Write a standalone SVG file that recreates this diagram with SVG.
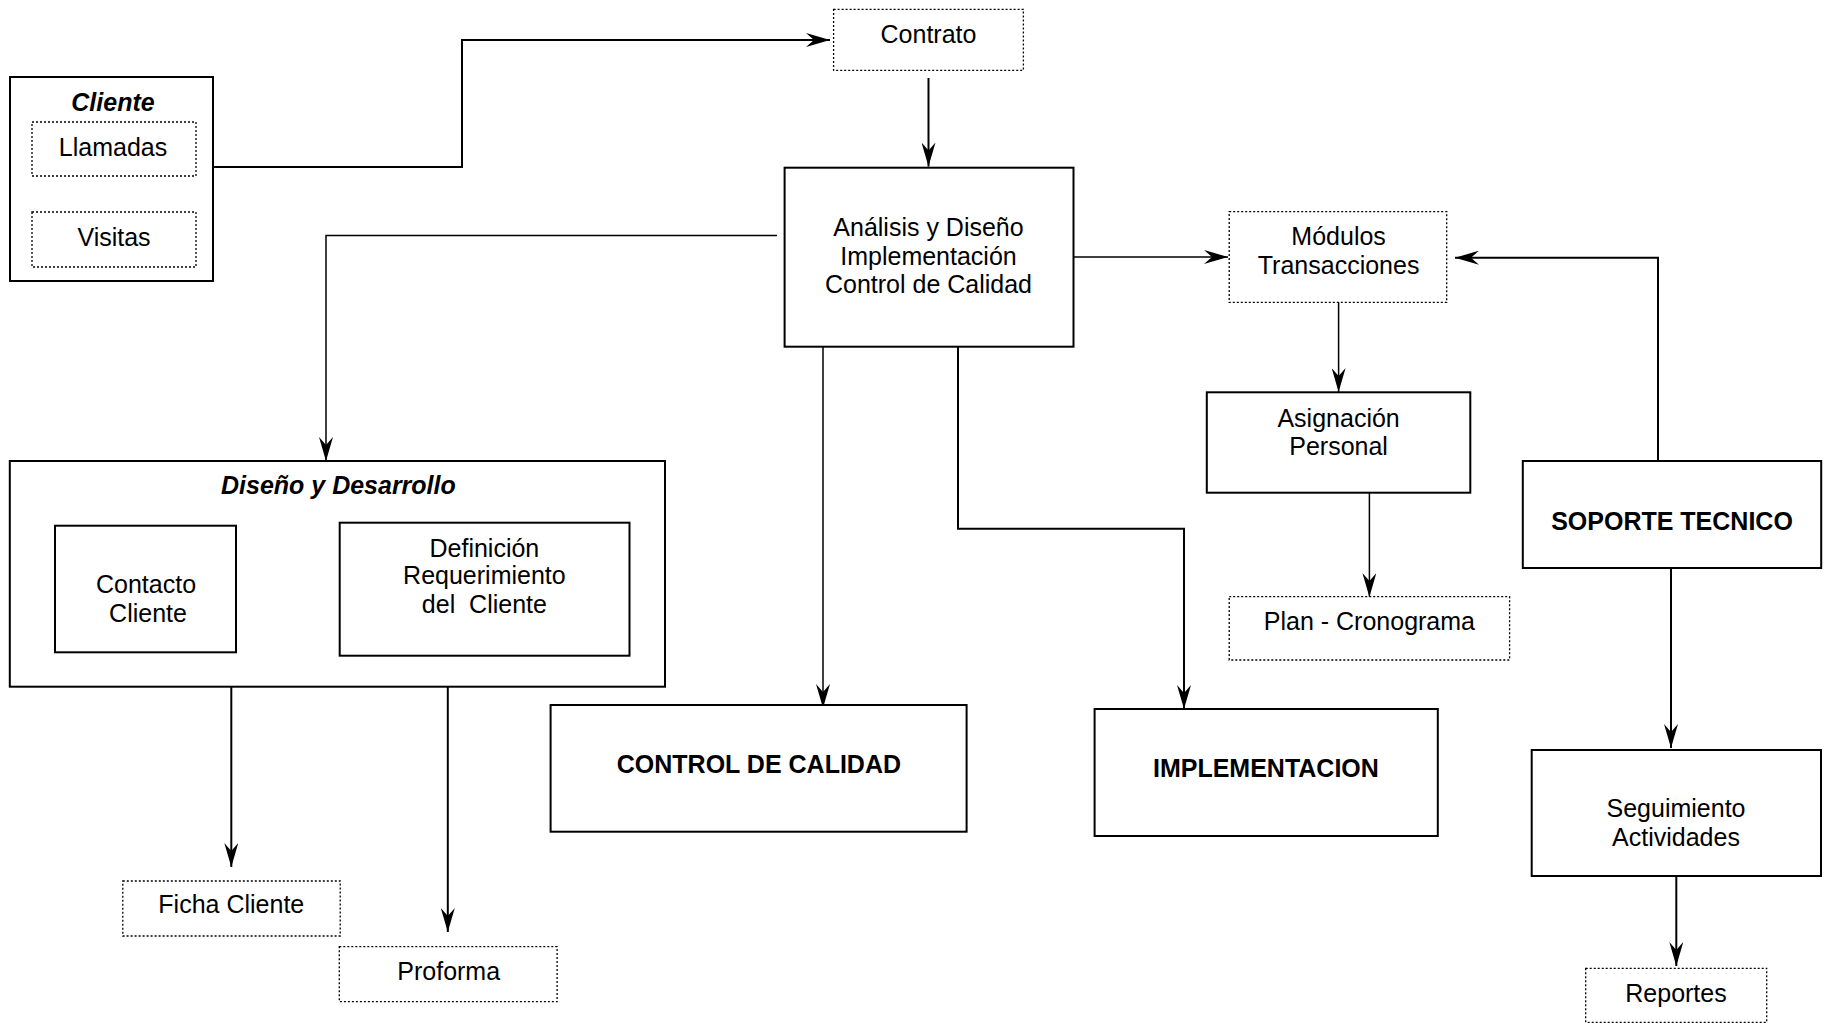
<svg xmlns="http://www.w3.org/2000/svg" width="1828" height="1031" viewBox="0 0 1828 1031">
  <style>
    text { font-family: "Liberation Sans", Arial, sans-serif; font-size: 25px; fill: #000; text-anchor: middle; }
    .b { font-weight: bold; }
    .bi { font-weight: bold; font-style: italic; }
    .box { fill: #fff; stroke: #000; stroke-width: 2; }
    .dot { fill: #fff; stroke: #000; stroke-width: 1.3; stroke-dasharray: 2 2; }
    .wire { fill: none; stroke: #000; stroke-width: 2; }
    .thin { stroke-width: 1.5; }
  </style>
  <defs>
    <marker id="arr" viewBox="0 0 24 14" refX="24" refY="7" markerWidth="24" markerHeight="14" markerUnits="userSpaceOnUse" orient="auto">
      <path d="M0,0 L24,7 L0,14 L8,7 Z" fill="#000"/>
    </marker>
    <marker id="tri" viewBox="0 0 14 14" refX="14" refY="7" markerWidth="14" markerHeight="14" markerUnits="userSpaceOnUse" orient="auto">
      <path d="M0,0 L14,7 L0,14 Z" fill="#000"/>
    </marker>
  </defs>

  <rect width="1828" height="1031" fill="#fff"/>

  <!-- connectors -->
  <g id="connectors">
    <path class="wire" d="M213,167 H462 V40 H830" marker-end="url(#arr)"/>
    <path class="wire" d="M928.5,78 V166.5" marker-end="url(#arr)"/>
    <path class="wire thin" d="M777,235.5 H326 V461" marker-end="url(#arr)"/>
    <path class="wire thin" d="M1071,257 H1228" marker-end="url(#arr)"/>
    <path class="wire" d="M1658,461 V257.7 H1455" marker-end="url(#arr)"/>
    <path class="wire thin" d="M1338.6,302 V392" marker-end="url(#arr)"/>
    <path class="wire thin" d="M1369.4,492 V597" marker-end="url(#arr)"/>
    <path class="wire thin" d="M823,347 V708" marker-end="url(#arr)"/>
    <path class="wire" d="M958,347 V528.7 H1184 V709" marker-end="url(#arr)"/>
    <path class="wire" d="M236,589.3 H343" marker-end="url(#tri)"/>
    <path class="wire" d="M231.3,687 V867" marker-end="url(#arr)"/>
    <path class="wire" d="M447.8,687 V932" marker-end="url(#arr)"/>
    <path class="wire" d="M1671,568 V748" marker-end="url(#arr)"/>
    <path class="wire" d="M1676.3,876 V966" marker-end="url(#arr)"/>
  </g>

  <!-- client group -->
  <g id="cliente">
    <rect class="box" x="10" y="77" width="203" height="204"/>
    <text class="bi" x="113" y="111">Cliente</text>
  </g>
  <g id="llamadas">
    <rect class="dot" x="32" y="122" width="164" height="54"/>
    <text x="113" y="156">Llamadas</text>
  </g>
  <g id="visitas">
    <rect class="dot" x="32" y="212" width="164" height="55"/>
    <text x="114" y="246">Visitas</text>
  </g>

  <g id="contrato">
    <rect class="dot" x="833.6" y="9.3" width="189.8" height="61"/>
    <text x="928.5" y="43">Contrato</text>
  </g>

  <g id="analisis">
    <rect class="box" x="784.6" y="167.7" width="288.9" height="179"/>
    <text x="928.5" y="236">Análisis y Diseño</text>
    <text x="928.5" y="265">Implementación</text>
    <text x="928.5" y="293">Control de Calidad</text>
  </g>

  <g id="modulos">
    <rect class="dot" x="1229.2" y="211.7" width="217.5" height="90.6"/>
    <text x="1338.6" y="245">Módulos</text>
    <text x="1338.6" y="274">Transacciones</text>
  </g>

  <g id="asignacion">
    <rect class="box" x="1206.8" y="392.3" width="263.5" height="100.4"/>
    <text x="1338.6" y="426.7">Asignación</text>
    <text x="1338.6" y="455">Personal</text>
  </g>

  <g id="plan">
    <rect class="dot" x="1229.2" y="596.7" width="280.4" height="63.3"/>
    <text x="1369.4" y="630">Plan - Cronograma</text>
  </g>

  <g id="soporte">
    <rect class="box" x="1522.8" y="461" width="298.4" height="107"/>
    <text class="b" x="1672" y="530">SOPORTE TECNICO</text>
  </g>

  <g id="diseno">
    <rect class="box" x="9.8" y="461" width="655.2" height="225.7"/>
    <text class="bi" x="338.4" y="494">Diseño y Desarrollo</text>
  </g>
  <g id="contacto">
    <rect class="box" x="55" y="525.7" width="181" height="126.6"/>
    <text x="146" y="593.3">Contacto</text>
    <text x="148" y="621.7">Cliente</text>
  </g>
  <g id="definicion">
    <rect class="box" x="339.7" y="522.7" width="289.8" height="133"/>
    <text x="484.4" y="556.7">Definición</text>
    <text x="484.4" y="584.3">Requerimiento</text>
    <text x="484.4" y="612.7" xml:space="preserve">del  Cliente</text>
  </g>

  <g id="ficha">
    <rect class="dot" x="122.8" y="881" width="217.4" height="55"/>
    <text x="231.3" y="913.3">Ficha Cliente</text>
  </g>
  <g id="proforma">
    <rect class="dot" x="339.3" y="946.7" width="217.8" height="55"/>
    <text x="448.7" y="980">Proforma</text>
  </g>

  <g id="control">
    <rect class="box" x="550.6" y="705" width="416" height="126.7"/>
    <text class="b" x="758.9" y="773.3">CONTROL DE CALIDAD</text>
  </g>

  <g id="implementacion">
    <rect class="box" x="1094.6" y="709" width="343.2" height="127"/>
    <text class="b" x="1265.9" y="777.3">IMPLEMENTACION</text>
  </g>

  <g id="seguimiento">
    <rect class="box" x="1531.7" y="750" width="289.3" height="126"/>
    <text x="1676" y="817.3">Seguimiento</text>
    <text x="1676" y="845.7">Actividades</text>
  </g>

  <g id="reportes">
    <rect class="dot" x="1585.7" y="968.3" width="181" height="54"/>
    <text x="1676" y="1001.7">Reportes</text>
  </g>
</svg>
